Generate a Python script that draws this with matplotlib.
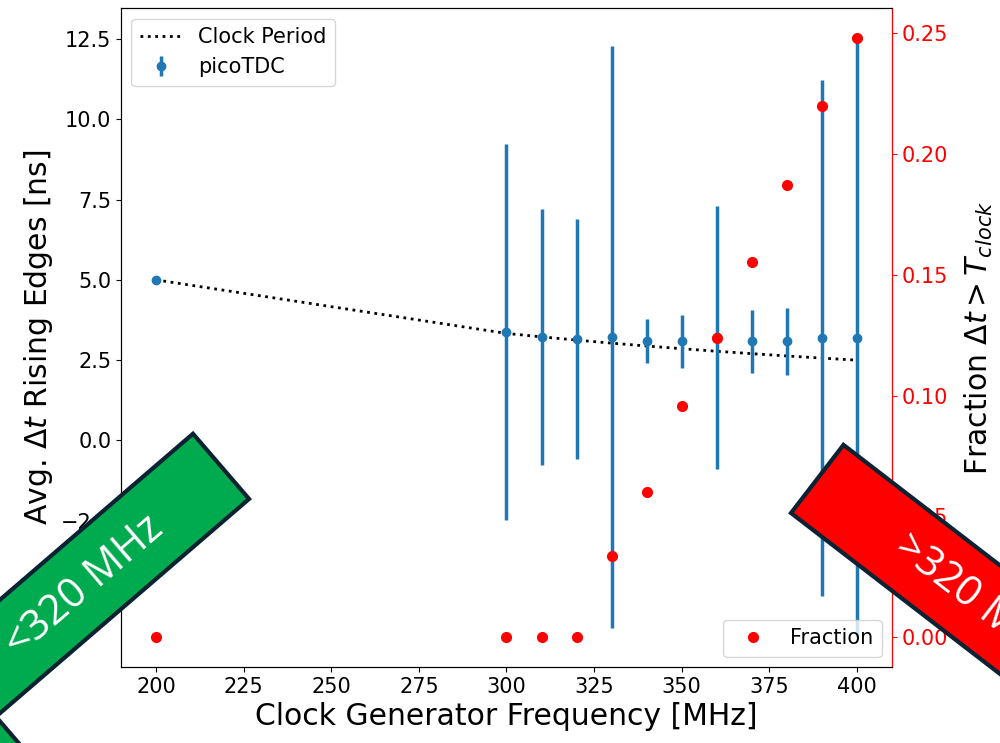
import numpy as np
import matplotlib
matplotlib.use("Agg")
import matplotlib.pyplot as plt
from matplotlib.patches import Rectangle
from matplotlib.transforms import IdentityTransform

# ── data ─────────────────────────────────────────────────────────────────
freq     = np.array([200, 300, 310, 320, 330, 340, 350, 360, 370, 380, 390, 400])
dt_mean  = np.array([5.0, 3.37, 3.23, 3.16, 3.23, 3.09, 3.09, 3.21, 3.09, 3.09, 3.19, 3.20])
dt_err   = np.array([0.0, 5.86, 3.98, 3.73, 9.07, 0.68, 0.83, 4.10, 0.98, 1.04, 8.04, 9.33])
fraction = np.array([0.0, 0.0, 0.0, 0.0, 0.0336, 0.060, 0.0958, 0.124, 0.1555, 0.1874, 0.2197, 0.248])
clock_period = 1000.0 / freq

plt.rcParams["font.size"] = 15

fig, ax = plt.subplots(figsize=(10, 7.43), dpi=100)
fig.subplots_adjust(left=0.121, right=0.892, top=0.989, bottom=0.102)

ax.plot(freq, clock_period, "k:", lw=2, label="Clock Period")
ax.errorbar(freq, dt_mean, yerr=dt_err, fmt="o", color="tab:blue",
            ms=6, elinewidth=2.5, label="picoTDC")
ax.set_xlabel("Clock Generator Frequency [MHz]", fontsize=21.5)
ax.set_ylabel(r"Avg. $\Delta t$ Rising Edges [ns]", fontsize=21.5)
ax.legend(loc="upper left", fontsize=15)

ax2 = ax.twinx()
ax2.plot(freq, fraction, "o", color="red", ms=7, label="Fraction")
ax2.set_ylabel(r"Fraction $\Delta t > T_{clock}$", fontsize=21.5, labelpad=11)
ax2.tick_params(axis="y", colors="red")
ax2.spines["right"].set_color("red")
ax2.legend(loc="lower right", fontsize=15)

for a in (ax, ax2):
    a.tick_params(labelsize=15)

# ── corner ribbons (pixel coords, y up) ──────────────────────────────────
def ribbon(xy, angle, length, width, color):
    r = Rectangle(xy, length, width, angle=angle, facecolor=color,
                  edgecolor="#0b2233", lw=3, transform=IdentityTransform(),
                  zorder=10)
    fig.add_artist(r)

ribbon((-130, -82), 40.7, 500, 86, "#00aa4f")
ribbon((-181, -228), 40.7, 300, 86, "#00aa4f")
ribbon((791, 230), -37.6, 500, 86, "#ff0000")

fig.text(84, 157, "<320 MHz", transform=IdentityTransform(), rotation=40.7,
         rotation_mode="anchor", ha="center", va="center", color="white",
         fontsize=30, family="Open Sans", zorder=11)
fig.text(977, 142, ">320 MHz", transform=IdentityTransform(), rotation=-37.6,
         rotation_mode="anchor", ha="center", va="center", color="white",
         fontsize=30, family="Open Sans", zorder=11)

fig.savefig("out.png", dpi=100)
